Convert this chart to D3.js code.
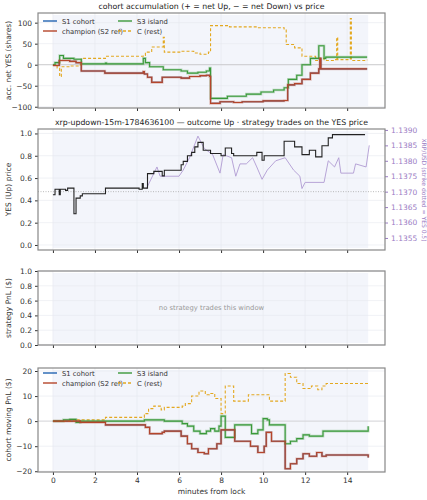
<!DOCTYPE html>
<html><head><meta charset="utf-8">
<script src="https://cdn.jsdelivr.net/npm/d3@7"></script>
<style>body{margin:0;background:#fff}text{font-family:"DejaVu Sans",sans-serif}</style>
</head><body><div id="chart"></div>
<script>
// step series as [minute, value]
const accChampion = [[0,-2],[0.3,10],[0.8,8],[1.1,5],[1.35,-15],[2.47,-20],[4.3,-16],[4.35,-22],[4.5,-30],[4.7,-42],[5.2,-30],[6.1,-32],[6.5,-28],[7.0,-26],[7.3,-25],[7.45,-28],[7.5,-92],[7.95,-88],[8.6,-90],[9.0,-88],[10.0,-86],[11.0,-85],[11.17,-48],[11.5,-45],[11.85,-35],[12.25,-20],[12.65,-10],[12.7,15],[12.75,-10],[14.95,-10]];
const accGreen = [[0,0],[0.1,5],[0.32,22],[0.5,15],[1.0,13],[1.35,2],[2.5,4],[2.55,2],[4.3,15],[4.4,5],[4.6,-5],[5.25,-12],[6.1,-15],[6.4,-20],[6.9,-18],[7.3,-15],[7.45,-8],[7.5,-80],[8.3,-75],[9.2,-70],[9.9,-65],[10.5,-60],[11.0,-55],[11.2,-35],[11.6,-25],[11.85,0],[12.25,15],[12.65,45],[12.9,15],[12.98,18],[14.95,18]];
const accC = [[0,0],[0.2,-8],[0.32,-28],[0.4,-5],[0.8,-3],[1.3,0],[1.35,15],[2.5,20],[4.3,22],[4.4,30],[4.7,42],[5.25,65],[5.3,30],[6.1,32],[6.7,28],[7.0,25],[7.4,30],[7.5,93],[8.4,90],[9.7,88],[11.0,85],[11.1,48],[11.5,40],[11.85,20],[12.5,10],[12.65,15],[12.9,10],[13.4,12],[13.5,65],[13.55,12],[14.15,110],[14.2,10],[14.95,12]];

const yesPrice = [[0,0.45],[0.1,0.50],[0.3,0.45],[0.35,0.50],[0.6,0.49],[0.7,0.51],[1.0,0.28],[1.1,0.42],[1.3,0.44],[1.4,0.46],[2.5,0.51],[4.1,0.50],[4.25,0.55],[4.3,0.51],[4.5,0.64],[4.8,0.66],[5.2,0.62],[5.3,0.67],[6.1,0.72],[6.2,0.75],[6.4,0.80],[6.6,0.83],[6.75,0.88],[6.9,0.92],[7.15,0.85],[7.5,0.82],[8.0,0.80],[8.2,0.87],[8.5,0.82],[8.6,0.80],[9.7,0.83],[9.95,0.76],[10.05,0.80],[11.0,0.93],[11.5,0.88],[11.85,0.81],[12.2,0.85],[12.5,0.79],[12.8,0.89],[13.1,0.96],[13.3,0.99],[14.85,0.99]];
const xrpPrice = [[4.45,1.1371],[4.95,1.1378],[5.1,1.1375],[6.0,1.1375],[6.2,1.1377],[6.5,1.1381],[6.9,1.1388],[7.2,1.1384],[7.6,1.1382],[7.95,1.1376],[8.1,1.1382],[8.5,1.1381],[8.7,1.1375],[8.9,1.1379],[9.2,1.1379],[9.5,1.1381],[9.7,1.1378],[9.95,1.1374],[10.2,1.1377],[10.6,1.1380],[11.05,1.1381],[11.45,1.1377],[11.75,1.1375],[11.85,1.1371],[12.0,1.1373],[12.9,1.1373],[13.1,1.1380],[13.4,1.1378],[13.6,1.1381],[13.7,1.1376],[14.3,1.1376],[14.4,1.1379],[14.9,1.1378],[15.05,1.1385]];

const pnlChampion = [[0,0],[1.3,-0.5],[2.5,-1.5],[4.3,-1.5],[4.4,-2.5],[4.6,-5],[5.2,-4.5],[5.3,-4],[6.1,-6],[6.4,-9],[6.6,-11],[6.9,-12.5],[7.2,-13],[7.4,-11],[7.8,-9],[8.0,-3.5],[8.65,-8],[9.4,-10],[9.75,-12.5],[10.05,-10],[10.15,-4.5],[10.4,-8],[11.05,-19],[11.3,-17],[11.6,-15],[11.9,-13],[12.2,-14],[12.55,-12.5],[12.8,-14],[13.0,-13.5],[15,-14.5]];
const pnlGreen = [[0,0],[0.5,0.5],[0.8,0.7],[1.1,-0.5],[1.3,0],[4.35,0.5],[5.3,0],[6.15,-1],[6.4,-2],[6.7,-4],[7.0,-5],[7.3,-4],[7.5,-3],[7.7,-4],[7.9,-2],[8.0,2],[8.2,-6.5],[8.65,-1.5],[9.45,-5],[9.75,-3.5],[10.0,1],[10.2,0.5],[10.3,-1.5],[11.05,-9],[11.3,-8],[11.6,-7],[11.9,-5.5],[12.2,-6],[12.85,-4],[14.95,-4],[15,-2]];
const pnlC = [[0,0],[1.0,0.5],[2.5,1.5],[4.35,3],[4.55,5],[4.8,6],[5.15,4.5],[5.3,5.5],[6.15,6],[6.3,7],[6.6,10],[6.95,12],[7.25,10.5],[7.45,11],[7.7,9],[8.0,3],[8.2,14],[8.6,8],[9.3,10.5],[10.0,10.5],[10.3,8],[11.05,19],[11.3,17.5],[11.6,15],[11.9,13],[12.3,14],[12.6,12.5],[12.8,14],[13.0,15],[15,14.8]];

const xTicks = [0,2,4,6,8,10,12,14];
const legendItems = [["S1 cohort","#2264b0",false],["champion (S2 ref)","#b5452a",false],["S3 island","#3a993a",false],["C (rest)","#e3a820",true]];

const W = 427, H = 500, L = 38, R = 385;
const svg = d3.select("#chart").append("svg").attr("width", W).attr("height", H);
const x = d3.scaleLinear().domain([-0.71, 15.8]).range([L, R]);

function panel(top, bottom, domain, ticks, fmt, label, showX) {
	const y = d3.scaleLinear().domain(domain).range([bottom, top]);
	const g = svg.append("g");
	g.append("rect").attr("x", x(0)).attr("y", top + 2).attr("width", x(15) - x(0)).attr("height", bottom - top - 4).attr("fill", "#f3f5fb");
	g.selectAll(".gx").data(xTicks).join("line").attr("x1", d => x(d)).attr("x2", d => x(d)).attr("y1", top).attr("y2", bottom).attr("stroke", "#e6e8ee").attr("stroke-width", 0.6);
	g.selectAll(".gy").data(ticks).join("line").attr("x1", L).attr("x2", R).attr("y1", d => y(d)).attr("y2", d => y(d)).attr("stroke", "#e6e8ee").attr("stroke-width", 0.6);
	const ax = g.append("g").attr("transform", `translate(0,${bottom})`).call(d3.axisBottom(x).tickValues(xTicks).tickSize(3).tickFormat(showX ? d3.format("d") : ""));
	const ay = g.append("g").attr("transform", `translate(${L},0)`).call(d3.axisLeft(y).tickValues(ticks).tickSize(3).tickFormat(fmt));
	[ax, ay].forEach(a => { a.select(".domain").remove(); a.selectAll("text").attr("font-size", 7.5).attr("fill", "#333"); a.selectAll("line").attr("stroke", "#333"); });
	g.append("text").attr("transform", `translate(11,${(top + bottom) / 2}) rotate(-90)`).attr("text-anchor", "middle").attr("font-size", 7.5).attr("fill", "#333").text(label);
	return { g, y, top, bottom };
}
function frame(p) {
	p.g.append("rect").attr("x", L).attr("y", p.top).attr("width", R - L).attr("height", p.bottom - p.top).attr("fill", "none").attr("stroke", "#888").attr("stroke-width", 1.2);
}
function step(p, data, color, dashed, halo) {
	const line = d3.line().x(d => x(d[0])).y(d => p.y(d[1])).curve(d3.curveStepAfter);
	if (halo) p.g.append("path").attr("d", line(data)).attr("fill", "none").attr("stroke", color).attr("stroke-opacity", 0.3).attr("stroke-width", 2.6);
	p.g.append("path").attr("d", line(data)).attr("fill", "none").attr("stroke", color).attr("stroke-width", 1.1).attr("stroke-dasharray", dashed ? "3,2" : null);
}
function legend(p, lx, ly) {
	// column-major like matplotlib ncol=2
	legendItems.forEach((it, i) => {
		const cx = lx + Math.floor(i / 2) * 75, cy = ly + (i % 2) * 10;
		p.g.append("line").attr("x1", cx).attr("x2", cx + 14).attr("y1", cy).attr("y2", cy).attr("stroke", it[1]).attr("stroke-width", 1.4).attr("stroke-dasharray", it[2] ? "3,2" : null);
		p.g.append("text").attr("x", cx + 19).attr("y", cy + 2.5).attr("font-size", 6.8).attr("fill", "#333").text(it[0]);
	});
}
function title(p, t) {
	svg.append("text").attr("x", (L + R) / 2).attr("y", p.top - 4).attr("text-anchor", "middle").attr("font-size", 7.8).attr("fill", "#222").text(t);
}

// panel 1
const p1 = panel(13, 108, [-103, 123], [-100, -50, 0, 50, 100], d3.format("d"), "acc. net YES (shares)", false);
p1.g.append("line").attr("x1", L).attr("x2", R).attr("y1", p1.y(0)).attr("y2", p1.y(0)).attr("stroke", "#bbb").attr("stroke-width", 0.7);
step(p1, accChampion, "#2264b0", false, false);
step(p1, accC, "#e3a820", true, false);
step(p1, accGreen, "#3a993a", false, true);
step(p1, accChampion, "#b5452a", false, true);
legend(p1, 43, 21);
frame(p1); title(p1, "cohort accumulation (+ = net Up, \u2212 = net Down) vs price");

// panel 2
const p2 = panel(129, 250, [-0.045, 1.04], [0, 0.2, 0.4, 0.6, 0.8, 1.0], d3.format(".1f"), "YES (Up) price", false);
const y2r = d3.scaleLinear().domain([1.13511, 1.13903]).range([250, 129]);
p2.g.append("line").attr("x1", L).attr("x2", R).attr("y1", y2r(1.1370)).attr("y2", y2r(1.1370)).attr("stroke", "#aaa").attr("stroke-width", 0.8).attr("stroke-dasharray", "1,1.5");
p2.g.append("path").attr("d", d3.line().x(d => x(d[0])).y(d => y2r(d[1]))(xrpPrice)).attr("fill", "none").attr("stroke", "#b09bd3").attr("stroke-width", 0.9);
step(p2, yesPrice, "#222", false, false);
const ar = p2.g.append("g").attr("transform", `translate(${R},0)`).call(d3.axisRight(y2r).tickValues([1.1355, 1.1360, 1.1365, 1.1370, 1.1375, 1.1380, 1.1385, 1.1390]).tickSize(3).tickFormat(d3.format(".4f")));
ar.select(".domain").remove();
ar.selectAll("text").attr("font-size", 7.5).attr("fill", "#9a7cc4");
ar.selectAll("line").attr("stroke", "#9a7cc4");
p2.g.append("text").attr("transform", `translate(422,190) rotate(90)`).attr("text-anchor", "middle").attr("font-size", 6).attr("fill", "#9a7cc4").text("XRP/USD (strike dotted = YES 0.5)");
frame(p2); title(p2, "xrp-updown-15m-1784636100 \u2014 outcome Up \u00b7 strategy trades on the YES price");

// panel 3
const p3 = panel(271, 345, [0, 1], [0, 0.2, 0.4, 0.6, 0.8, 1.0], d3.format(".1f"), "strategy PnL ($)", false);
p3.g.append("text").attr("x", (L + R) / 2).attr("y", 310).attr("text-anchor", "middle").attr("font-size", 6.8).attr("fill", "#999").text("no strategy trades this window");
frame(p3);

// panel 4
const p4 = panel(368, 472, [-20.3, 21.2], [-20, -10, 0, 10, 20], d3.format("d"), "cohort moving PnL ($)", true);
p4.g.append("line").attr("x1", L).attr("x2", R).attr("y1", p4.y(0)).attr("y2", p4.y(0)).attr("stroke", "#ccc").attr("stroke-width", 0.7);
step(p4, pnlChampion, "#2264b0", false, false);
step(p4, pnlC, "#e3a820", true, false);
step(p4, pnlGreen, "#3a993a", false, true);
step(p4, pnlChampion, "#b5452a", false, true);
legend(p4, 43, 373);
frame(p4);
svg.append("text").attr("x", (L + R) / 2).attr("y", 494).attr("text-anchor", "middle").attr("font-size", 7.5).attr("fill", "#333").text("minutes from lock");
</script></body></html>
